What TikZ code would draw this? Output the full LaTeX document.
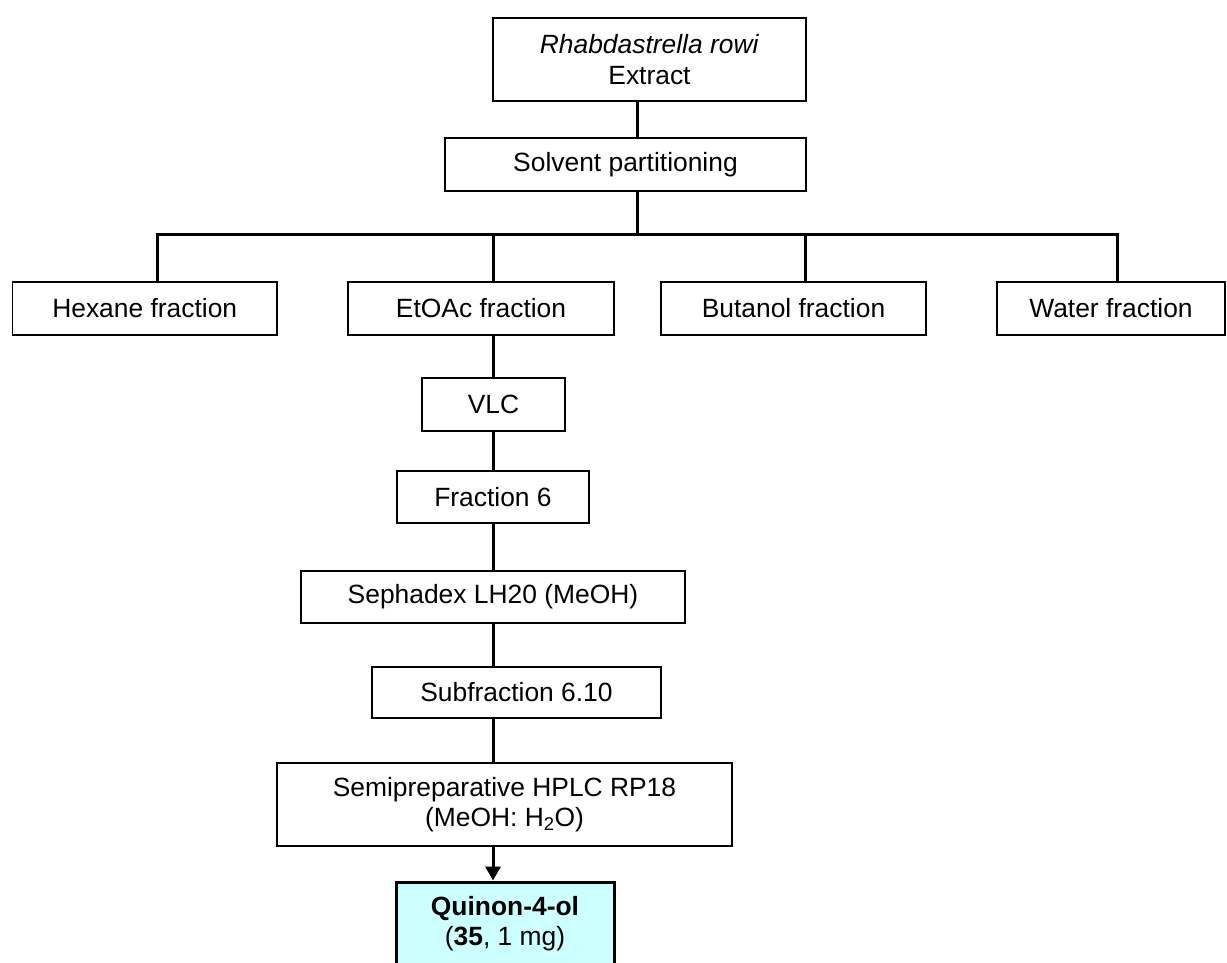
\documentclass[tikz,border=0pt]{standalone}
\usepackage{fontspec}
\setmainfont{Liberation Sans}
\usetikzlibrary{arrows.meta}
\definecolor{qcyan}{RGB}{204,255,255}
\begin{document}
\begin{tikzpicture}[x=1pt,y=-1pt,
  every node/.style={font=\fontsize{26.4}{30.5}\selectfont, align=center, inner sep=0pt},
  fbox/.style={draw, line width=1.5pt, fill=white},
  result/.style={draw, line width=3pt, fill=qcyan},
  conn/.style={line width=3pt},
  arr/.style={line width=3pt, -{Triangle[width=15pt,length=14pt]}}]
\useasboundingbox (0,0) rectangle (1227,963);

% boxes (centre, width, height)
\node[fbox, minimum width=313pt, minimum height=83pt] (top)   at (649.5,59.5) {\textit{Rhabdastrella rowi}\\Extract};
\node[fbox, minimum width=361pt, minimum height=53pt] (solv)  at (625.5,164.5) {Solvent partitioning};
\node[fbox, minimum width=264.5pt, minimum height=53pt] (hex) at (144.75,308.5) {Hexane fraction};
\node[fbox, minimum width=266pt, minimum height=53pt] (etoac) at (481,308.5) {EtOAc fraction};
\node[fbox, minimum width=265pt, minimum height=53pt] (but)   at (793.5,308.5) {Butanol fraction};
\node[fbox, minimum width=228pt, minimum height=53pt] (water) at (1111,308.5) {Water fraction};
\node[fbox, minimum width=143pt, minimum height=53pt] (vlc)   at (493.5,404.5) {VLC};
\node[fbox, minimum width=192pt, minimum height=52pt] (frac)  at (493,497) {Fraction 6};
\node[fbox, minimum width=384pt, minimum height=52pt] (seph)  at (493,597) {Sephadex LH20 (MeOH)};
\node[fbox, minimum width=289pt, minimum height=51pt] (sub)   at (516.5,692.5) {Subfraction 6.10};
\node[fbox, minimum width=455pt, minimum height=83pt] (hplc)  at (504.5,804.5) {Semipreparative HPLC RP18\\(MeOH: H\textsubscript{2}O)};
\node[result, minimum width=218pt, minimum height=83pt] (quin) at (505,923.5) {\textbf{Quinon-4-ol}\\(\textbf{35}, 1 mg)};

% connector columns and the distribution bus
\coordinate (ax) at (637,0);
\coordinate (bus) at (0,234);
\coordinate (hx) at (157,0);
\coordinate (ex) at (493,0);
\coordinate (bx) at (805,0);
\coordinate (wx) at (1117,0);

\draw[conn] (top.south -| ax) -- (solv.north -| ax);
\draw[conn] (solv.south -| ax) -- (ax |- bus);
\draw[conn, line join=miter] (hex.north -| hx) -- (hx |- bus) -- (wx |- bus) -- (water.north -| wx);
\draw[conn] (ex |- bus) -- (etoac.north -| ex);
\draw[conn] (bx |- bus) -- (but.north -| bx);

\draw[conn] (etoac.south -| ex) -- (vlc.north -| ex);
\draw[conn] (vlc.south -| ex) -- (frac.north -| ex);
\draw[conn] (frac.south -| ex) -- (seph.north -| ex);
\draw[conn] (seph.south -| ex) -- (sub.north -| ex);
\draw[conn] (sub.south -| ex) -- (hplc.north -| ex);
\draw[arr] (hplc.south -| ex) -- (quin.north -| ex);
\end{tikzpicture}
\end{document}
